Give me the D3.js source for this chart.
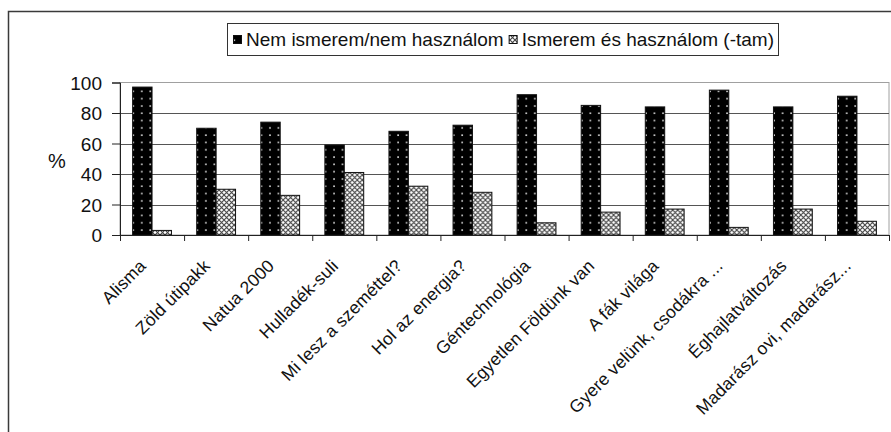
<!DOCTYPE html>
<html>
<head>
<meta charset="utf-8">
<script src="https://cdn.jsdelivr.net/npm/d3@7"></script>
<style>
  body { margin: 0; background: #fff; }
  svg { display: block; font-family: "Liberation Sans", Arial, sans-serif; }
</style>
</head>
<body>
<div id="root"></div>
<script>
// categories and values
const categories = [
  "Alisma", "Zöld útipakk", "Natua 2000", "Hulladék-suli", "Mi lesz a szeméttel?",
  "Hol az energia?", "Géntechnológia", "Egyetlen Földünk van", "A fák világa",
  "Gyere velünk, csodákra ...", "Éghajlatváltozás", "Madarász ovi, madarász..."
];
const series = ["Nem ismerem/nem használom", "Ismerem és használom (-tam)"];
const notKnown = [97, 70, 74, 59, 68, 72, 92, 85, 84, 95, 84, 91];
const known = [3, 30, 26, 41, 32, 28, 8, 15, 17, 5, 17, 9];
const yTicks = [0, 20, 40, 60, 80, 100];

const W = 891, H = 432;
const margin = { top: 82.5, right: 2, bottom: 197, left: 120 };

const svg = d3.select("#root").append("svg").attr("width", W).attr("height", H);

// patterns
const defs = svg.append("defs");
const dots = defs.append("pattern").attr("id", "dots").attr("patternUnits", "userSpaceOnUse")
  .attr("width", 8.5).attr("height", 7.3);
dots.append("rect").attr("width", 8.5).attr("height", 7.3).attr("fill", "#000");
dots.append("rect").attr("x", 4).attr("y", 3).attr("width", 1.6).attr("height", 1.6).attr("fill", "#ddd");

const hatch = defs.append("pattern").attr("id", "hatch").attr("patternUnits", "userSpaceOnUse")
  .attr("width", 5).attr("height", 5);
hatch.append("rect").attr("width", 5).attr("height", 5).attr("fill", "#fff");
hatch.append("path").attr("d", "M0,0L5,5M5,0L0,5").attr("stroke", "#444").attr("stroke-width", 1.1);

// outer frame (cut at the right and bottom)
svg.append("rect").attr("x", 8.5).attr("y", 11.5).attr("width", 900).attr("height", 440)
  .attr("fill", "none").attr("stroke", "#3a3a3a").attr("stroke-width", 1.5);

const x0 = margin.left, x1 = W - margin.right;
const yTop = margin.top, yBot = H - margin.bottom;

const x = d3.scaleBand().domain(categories).range([x0, x1]);
const bw = x.bandwidth();
const gap = bw * 0.65 / 3.3;
const xs = d3.scaleBand().domain(series).range([gap, bw - gap]);
const y = d3.scaleLinear().domain([0, 100]).range([yBot, yTop]);

// plot area border
svg.append("rect").attr("x", x0).attr("y", yTop).attr("width", x1 - x0).attr("height", yBot - yTop)
  .attr("fill", "none").attr("stroke", "#a0a0a0").attr("stroke-width", 1);

// gridlines
svg.append("g").selectAll("line").data(yTicks.filter(d => d > 0 && d < 100)).join("line")
  .attr("x1", x0).attr("x2", x1)
  .attr("y1", d => Math.round(y(d)) + 0.5).attr("y2", d => Math.round(y(d)) + 0.5)
  .attr("stroke", "#555").attr("stroke-width", 1);

// bars
const rows = categories.map((c, i) => ({ c, vals: [notKnown[i], known[i]] }));
const fills = ["url(#dots)", "url(#hatch)"];
svg.append("g").selectAll("g").data(rows).join("g")
  .attr("transform", d => `translate(${x(d.c)},0)`)
  .selectAll("rect").data(d => d.vals.map((v, k) => ({ v, k }))).join("rect")
  .attr("x", d => xs(series[d.k]))
  .attr("width", xs.bandwidth())
  .attr("y", d => y(d.v))
  .attr("height", d => yBot - y(d.v))
  .attr("fill", d => fills[d.k])
  .attr("stroke", "#111").attr("stroke-width", 1);

// y axis
const yAxis = svg.append("g").attr("transform", `translate(${x0},0)`)
  .call(d3.axisLeft(y).tickValues(yTicks).tickSize(8).tickPadding(10));
yAxis.selectAll("text").attr("font-size", 19).attr("fill", "#111").attr("dy", "0.36em");
yAxis.selectAll("line, path").attr("stroke", "#222");

svg.append("text").attr("x", 57).attr("y", 168).attr("text-anchor", "middle")
  .attr("font-size", 20).attr("fill", "#111").text("%");

// x axis: ticks on category borders
const xi = d3.scaleLinear().domain([0, categories.length]).range([x0, x1]);
const xAxis = svg.append("g").attr("transform", `translate(0,${yBot})`)
  .call(d3.axisBottom(xi).tickValues(d3.range(categories.length + 1)).tickSize(6).tickFormat(""));
xAxis.selectAll("line, path").attr("stroke", "#222");

svg.append("g").selectAll("text").data(categories).join("text")
  .attr("transform", d => `translate(${x(d) + bw / 2 - 5},${yBot + 32}) rotate(-45)`)
  .attr("text-anchor", "end")
  .attr("font-size", 17.5).attr("letter-spacing", 0.2).attr("fill", "#111")
  .text(d => d);

// legend: items laid out one after the other
const lg = svg.append("g");
lg.append("rect").attr("x", 227.5).attr("y", 23.5).attr("width", 551).attr("height", 32)
  .attr("fill", "#fff").attr("stroke", "#333").attr("stroke-width", 1);
let lx = 233;
series.forEach((s, k) => {
  lg.append("rect").attr("x", lx + 0.5).attr("y", 35.5).attr("width", 8).attr("height", 8)
    .attr("fill", fills[k]).attr("stroke", "#111").attr("stroke-width", 1);
  const t = lg.append("text").attr("x", lx + 13).attr("y", 46).attr("font-size", 19)
    .attr("fill", "#111").text(s);
  lx += 13 + t.node().getComputedTextLength() + 5;
});
</script>
</body>
</html>
